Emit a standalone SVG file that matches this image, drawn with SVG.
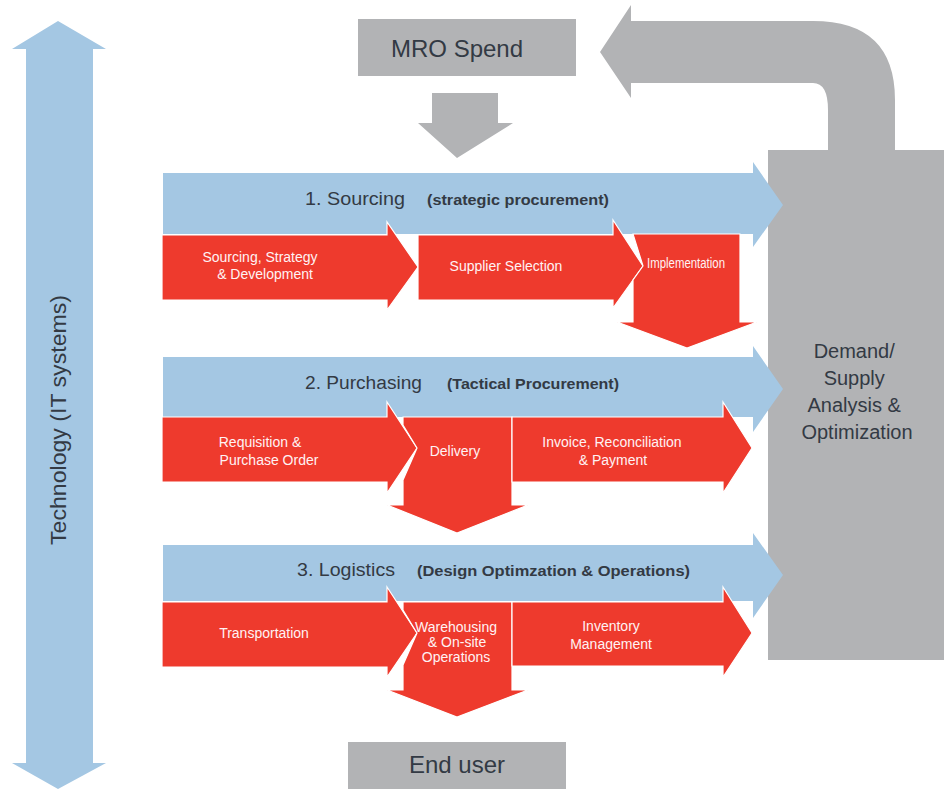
<svg xmlns="http://www.w3.org/2000/svg" width="944" height="789" viewBox="0 0 944 789">
<style>
.blue{fill:#a4c7e3}
.red{fill:#ee3a2d;stroke:#ffffff;stroke-width:1.2;stroke-linejoin:miter}
.gray{fill:#b2b3b5}
.hd{font-family:"Liberation Sans",Arial,sans-serif;fill:#333a44}
.sub{font-family:"Liberation Sans",Arial,sans-serif;fill:#333a44;font-weight:bold;font-size:14.5px}
.wt{font-family:"Liberation Sans",Arial,sans-serif;fill:#fff2f4;font-size:14px;text-anchor:middle}
</style>
<rect width="944" height="789" fill="#ffffff"/>

<g id="technology">
<path class="blue" d="M58,21 L106,49 L93,49 L93,763 L106,763 L58,789 L12,763 L26,763 L26,49 L12,49 Z"/>
<text class="hd" font-size="22" text-anchor="middle" transform="translate(66,420) rotate(-90)" textLength="250" lengthAdjust="spacingAndGlyphs">Technology (IT systems)</text>
</g>

<g id="mro-spend">
<rect class="gray" x="358" y="19" width="218" height="57"/>
<text class="hd" x="457" y="57" font-size="24" text-anchor="middle">MRO Spend</text>
</g>

<g id="end-user">
<rect class="gray" x="348" y="742" width="218" height="47"/>
<text class="hd" x="457" y="773" font-size="24" text-anchor="middle">End user</text>
</g>

<g id="demand-supply">
<rect class="gray" x="768" y="150" width="176" height="510"/>
<text class="hd" font-size="20" text-anchor="middle">
<tspan x="857" y="358">Demand/</tspan>
<tspan x="857" y="385">Supply</tspan>
<tspan x="857" y="412">Analysis &amp;</tspan>
<tspan x="857" y="439">Optimization</tspan>
</text>
</g>

<g id="connectors">
<path class="gray" d="M432,93 L498,93 L498,123 L513,123 L457,158 L418,123 L432,123 Z"/>
<path class="gray" d="M895,150 L895,100 Q895,21 813,21 L631,21 L631,5 L600,52 L631,98 L631,83 L813,83 Q828,83 828,110 L828,150 Z"/>
</g>

<g id="sourcing">
<path class="blue" d="M163,173 L753,173 L753,162 L783,205 L753,247 L753,234 L163,234 Z"/>
<text class="hd" x="305" y="205" font-size="18" textLength="100" lengthAdjust="spacingAndGlyphs">1. Sourcing</text>
<text class="sub" x="427" y="205" textLength="182" lengthAdjust="spacingAndGlyphs">(strategic procurement)</text>
</g>
<g id="sourcing-strategy">
<path class="red" d="M162,235 L387,235 L387,222 L418,267 L387,310 L387,300 L162,300 Z"/>
<text class="wt"><tspan x="260" y="262">Sourcing, Strategy</tspan><tspan x="265" y="279">&amp; Development</tspan></text>
</g>
<g id="supplier-selection">
<path class="red" d="M418,235 L613,235 L613,220 L643,266 L613,308 L613,300 L418,300 L418,300 Z"/>
<text class="wt" x="506" y="271">Supplier Selection</text>
</g>
<g id="implementation">
<path class="red" d="M633,234 L740,234 L740,322 L757,322 L687,348 L617,322 L633,322 L633,280 L643,266 Z"/>
<text class="wt" x="686" y="268" font-size="11" textLength="78" lengthAdjust="spacingAndGlyphs">Implementation</text>
</g>

<g id="purchasing">
<path class="blue" d="M163,357 L753,357 L753,346 L783,389 L753,432 L753,417 L163,417 Z"/>
<text class="hd" x="305" y="389" font-size="18" textLength="117" lengthAdjust="spacingAndGlyphs">2. Purchasing</text>
<text class="sub" x="447" y="389" textLength="172" lengthAdjust="spacingAndGlyphs">(Tactical Procurement)</text>
</g>
<g id="requisition">
<path class="red" d="M162,417 L387,417 L387,402 L417,448 L387,493 L387,482 L162,482 Z"/>
<text class="wt"><tspan x="260" y="447">Requisition &amp;</tspan><tspan x="269" y="465">Purchase Order</tspan></text>
</g>
<g id="delivery">
<path class="red" d="M403,417 L512,417 L512,505 L528,505 L457,533 L387,505 L403,505 L403,480 L417,448 L403,425 Z"/>
<text class="wt" x="455" y="456">Delivery</text>
</g>
<g id="invoice">
<path class="red" d="M512,417 L723,417 L723,402 L752,448 L723,493 L723,482 L512,482 Z"/>
<text class="wt"><tspan x="612" y="447">Invoice, Reconciliation</tspan><tspan x="613" y="465">&amp; Payment</tspan></text>
</g>

<g id="logistics">
<path class="blue" d="M163,545 L753,545 L753,533 L783,575 L753,618 L753,601 L163,601 Z"/>
<text class="hd" x="297" y="576" font-size="18" textLength="98" lengthAdjust="spacingAndGlyphs">3. Logistics</text>
<text class="sub" x="417" y="576" textLength="273" lengthAdjust="spacingAndGlyphs">(Design Optimzation &amp; Operations)</text>
</g>
<g id="transportation">
<path class="red" d="M162,602 L387,602 L387,587 L417,633 L387,677 L387,667 L162,667 Z"/>
<text class="wt" x="264" y="638">Transportation</text>
</g>
<g id="warehousing">
<path class="red" d="M403,602 L512,602 L512,690 L528,690 L457,717 L387,690 L403,690 L403,665 L417,633 L403,610 Z"/>
<text class="wt" font-size="12"><tspan x="456" y="632">Warehousing</tspan><tspan x="457" y="647">&amp; On-site</tspan><tspan x="456" y="662">Operations</tspan></text>
</g>
<g id="inventory">
<path class="red" d="M512,602 L723,602 L723,587 L752,633 L723,677 L723,666 L512,666 Z"/>
<text class="wt"><tspan x="611" y="631">Inventory</tspan><tspan x="611" y="649">Management</tspan></text>
</g>
</svg>
